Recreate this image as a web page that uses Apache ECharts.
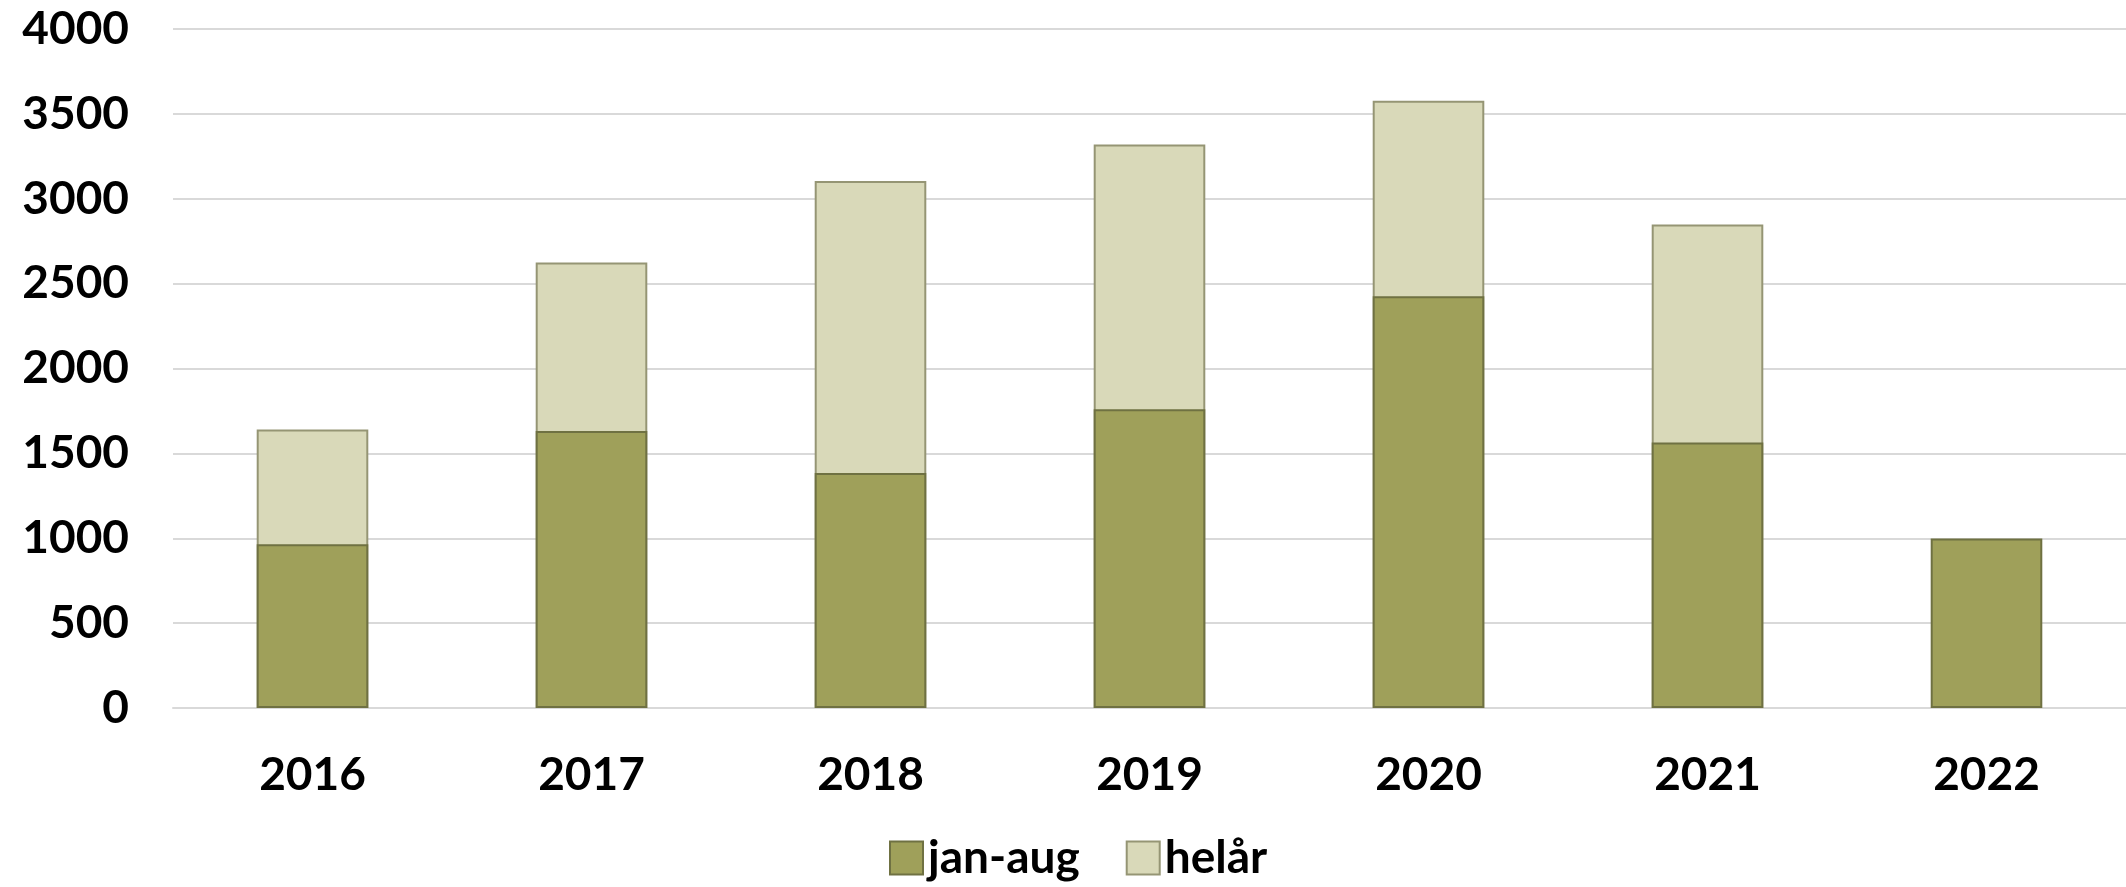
<!DOCTYPE html>
<html>
<head>
<meta charset="utf-8">
<script src="https://cdn.jsdelivr.net/npm/echarts@6/dist/echarts.min.js"></script>
<style>
  html, body { margin: 0; padding: 0; background: #fff; }
  #chart { width: 2126px; height: 887px; }
</style>
</head>
<body>
<div id="chart"></div>
<script>
const years = ['2016', '2017', '2018', '2019', '2020', '2021', '2022'];
// jan-aug
const janAug = [965, 1632, 1384, 1760, 2425, 1564, 998];
// helår (full year), 2022 not complete
const helar = [1640, 2624, 3104, 3320, 3577, 2849, null];
const yTicks = [0, 500, 1000, 1500, 2000, 2500, 3000, 3500, 4000];

const font = 'Lato, "Open Sans", sans-serif';

const chart = echarts.init(document.getElementById('chart'));
chart.setOption({
  animation: false,
  grid: { left: 173, right: 0, top: 29, bottom: 179 },
  legend: {
    data: ['jan-aug', 'helår'],
    left: 884,
    top: 830,
    itemWidth: 33,
    itemHeight: 33,
    itemGap: 46,
    icon: 'rect',
    textStyle: { fontFamily: font, fontWeight: 'bold', fontSize: 46, color: '#000' }
  },
  xAxis: {
    type: 'category',
    data: years,
    axisLine: { lineStyle: { color: '#d9d9d9', width: 2 } },
    axisTick: { show: false },
    axisLabel: { fontFamily: font, fontWeight: 'bold', fontSize: 46, color: '#000', margin: 44 }
  },
  yAxis: {
    type: 'value',
    min: yTicks[0],
    max: yTicks[yTicks.length - 1],
    interval: 500,
    axisLine: { show: false },
    axisTick: { show: false },
    splitLine: { lineStyle: { color: '#d9d9d9', width: 2 } },
    axisLabel: {
      fontFamily: font, fontWeight: 'bold', fontSize: 46, color: '#000', margin: 44,
      formatter: v => String(v)
    }
  },
  series: [
    {
      name: 'jan-aug',
      type: 'bar',
      data: janAug,
      barWidth: '40%',
      barGap: '-100%',
      z: 3,
      itemStyle: { color: '#9fa05a', borderColor: '#6f7142', borderWidth: 2 }
    },
    {
      name: 'helår',
      type: 'bar',
      data: helar,
      barWidth: '40%',
      z: 2,
      itemStyle: { color: '#d9d9b9', borderColor: '#959574', borderWidth: 2 }
    }
  ]
});
</script>
</body>
</html>
